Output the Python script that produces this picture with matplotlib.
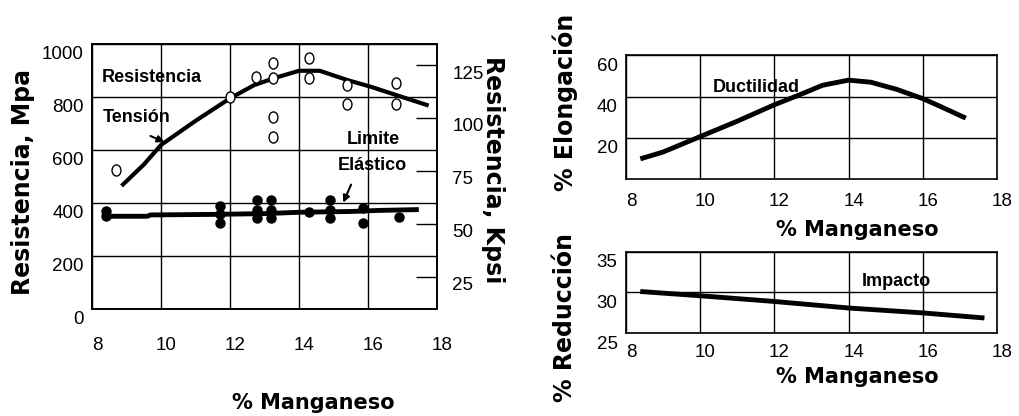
import matplotlib
matplotlib.use("Agg")
import matplotlib.pyplot as plt
from matplotlib.path import Path
from matplotlib.transforms import Affine2D, ScaledTranslation

# --- datos ---
mn_tension = [8.9, 9.5, 10.0, 11.0, 12.0, 12.7, 13.3, 14.0, 14.6, 15.4, 16.1, 16.8, 17.7]
tension = [470, 545, 619, 710, 795, 845, 872, 899, 899, 864, 838, 808, 770]

mn_tension_pts = [8.7, 12.0, 12.75, 13.25, 13.25, 13.25, 13.25, 14.3, 14.3, 15.4, 15.4, 16.8, 16.8]
tension_pts = [525, 800, 877, 927, 870, 723, 648, 946, 870, 845, 774, 852, 774]

mn_elastico = [8.4, 9.6, 9.7, 11.5, 13.0, 14.0, 15.5, 16.3, 17.4]
elastico = [350, 350, 355, 357, 360, 365, 368, 372, 375]

mn_elastico_pts = [8.4, 8.4, 11.7, 11.7, 11.7, 12.77, 12.77, 12.77, 13.2, 13.2, 13.2,
                   14.3, 14.9, 14.9, 14.9, 15.84, 15.84, 16.9]
elastico_pts = [370, 350, 390, 360, 325, 410, 375, 345, 410, 375, 345,
                367, 410, 375, 345, 380, 323, 348]

mn_ductil = [8.45, 9.0, 10.0, 11.0, 12.0, 12.7, 13.3, 14.0, 14.6, 15.3, 16.0, 16.5, 17.1]
elongacion = [10, 13, 20.5, 28, 36, 41, 45.5, 48, 47, 43.5, 39, 35, 30]

mn_impacto = [8.45, 10, 12, 14, 16, 17.6]
reduccion = [30.1, 29.6, 28.9, 28.1, 27.5, 26.9]

x_ticks = [8, 10, 12, 14, 16, 18]
mpa_ticks = [0, 200, 400, 600, 800, 1000]
ksi_ticks = [25, 50, 75, 100, 125]
elong_ticks = [20, 40, 60]
red_ticks = [25, 30, 35]

# --- estilo ---
plt.rcParams['font.family'] = ['Liberation Sans', 'DejaVu Sans']
tick_fs = 13.5
ylab = dict(family='DejaVu Sans', fontweight='bold', fontsize=17, va='center', ha='center')
xlab = dict(family='DejaVu Sans', fontweight='bold', fontsize=15, va='center', ha='center')
note = dict(family='Liberation Sans', fontweight='bold', fontsize=13)

fig = plt.figure(figsize=(10.19, 4.16), dpi=100)
ax1 = fig.add_axes([0.0903, 0.2572, 0.3386, 0.637])
ax2 = fig.add_axes([0.6143, 0.5704, 0.364, 0.2962])
ax3 = fig.add_axes([0.6143, 0.1988, 0.364, 0.1962])


def shift(labels, dx, dy):
    for lab in labels:
        lab.set_transform(lab.get_transform() + ScaledTranslation(dx / 100, dy / 100, fig.dpi_scale_trans))


def base(ax, ylim, yticks, xpad):
    ax.set_xlim(8, 18)
    ax.set_ylim(*ylim)
    ax.set_xticks(x_ticks)
    ax.set_yticks(yticks)
    ax.grid(True, color='black', lw=1)
    ax.set_axisbelow(True)
    ax.tick_params(length=0, labelsize=tick_fs, pad=6)
    ax.tick_params(axis='x', pad=xpad)
    for s in ax.spines.values():
        s.set_linewidth(1.2)


oval = Path.unit_circle().transformed(Affine2D().scale(0.8, 1.0))

# --- grafico izquierdo ---
base(ax1, (0, 1000), mpa_ticks, 20)
shift(ax1.get_yticklabels(), 0, -8)
shift(ax1.get_xticklabels(), 5, 0)
ax1.plot(mn_tension, tension, color='black', lw=3)
ax1.plot(mn_tension_pts, tension_pts, ls='none', marker=oval, ms=8,
         mfc='white', mec='black', mew=1)
ax1.plot(mn_elastico, elastico, color='black', lw=3.5)
ax1.plot(mn_elastico_pts, elastico_pts, ls='none', marker='o', ms=6.5,
         color='black')
ax1.set_ylabel('Resistencia, Mpa', **ylab)
ax1.yaxis.set_label_coords(-0.2, 0.48)
ax1.set_xlabel('% Manganeso', **xlab)
ax1.xaxis.set_label_coords(0.64, -0.355)

ax1.text(8.29, 872, 'Resistencia', va='center', **note)
ax1.text(8.32, 721, 'Tensión', va='center', **note)
ax1.text(15.39, 638, 'Limite', va='center', **note)
ax1.text(15.13, 543, 'Elástico', va='center', **note)
arrow = dict(arrowstyle='-|>', color='black', lw=1.5, mutation_scale=10)
ax1.annotate('', xy=(10.17, 626), xytext=(9.62, 657), arrowprops=arrow)
ax1.annotate('', xy=(15.25, 392), xytext=(15.54, 479), arrowprops=arrow)

ax1b = ax1.twinx()
ax1b.set_ylim(9.9, 134.9)
ax1b.set_yticks(ksi_ticks)
ax1b.tick_params(direction='in', length=15, width=1, labelsize=tick_fs, pad=11)
shift(ax1b.get_yticklabels(), 0, -7)
ax1b.set_ylabel('Resistencia, Kpsi', rotation=-90, **ylab)
ax1b.yaxis.set_label_coords(1.162, 0.525)
for s in ax1b.spines.values():
    s.set_linewidth(1.2)

# --- elongacion ---
base(ax2, (0, 60), elong_ticks, 10)
shift(ax2.get_yticklabels(), 0, -9)
shift(ax2.get_xticklabels(), 5, 0)
ax2.plot(mn_ductil, elongacion, color='black', lw=3.5)
ax2.text(10.35, 44.2, 'Ductilidad', va='center', **note)
ax2.set_ylabel('% Elongación', **ylab)
ax2.yaxis.set_label_coords(-0.164, 0.62)
ax2.set_xlabel('% Manganeso', **xlab)
ax2.xaxis.set_label_coords(0.623, -0.416)

# --- reduccion ---
base(ax3, (25, 35), red_ticks, 8)
shift(ax3.get_yticklabels(), 0, -9)
shift(ax3.get_xticklabels(), 5, 0)
ax3.plot(mn_impacto, reduccion, color='black', lw=3.5)
ax3.text(14.36, 31.3, 'Impacto', va='center', **note)
ax3.set_ylabel('% Reducción', **ylab)
ax3.yaxis.set_label_coords(-0.164, 0.19)
ax3.set_xlabel('% Manganeso', **xlab)
ax3.xaxis.set_label_coords(0.623, -0.535)

fig.savefig('out.png', dpi=100)
